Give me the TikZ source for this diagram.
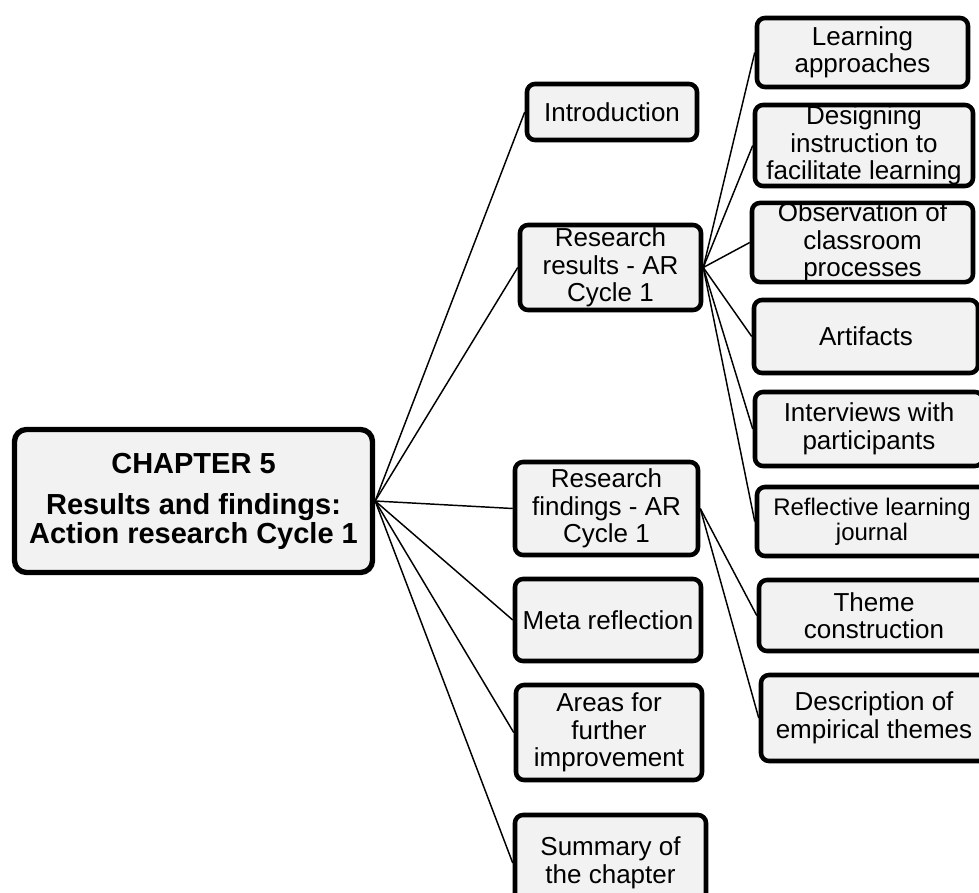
\documentclass[tikz,border=0pt]{standalone}
\usepackage{fontspec}
\setmainfont{Liberation Sans}
\usepackage{tikz}
\usetikzlibrary{positioning, calc, shapes, arrows.meta}
\definecolor{boxfill}{HTML}{F2F2F2}
\tikzstyle{Link} = [
%Plain connector between two boxes:
line width = 1.1pt,
black
]

\begin{document}
\begin{tikzpicture}[
			x = 0.75pt, y = -0.75pt,
			boxsize/.style 2 args = {minimum width = #1*0.75pt, minimum height = #2*0.75pt},
			topic/.style = {rectangle, rounded corners = 6pt, line width = 3.4pt, draw, fill = boxfill, align = center, inner sep = 0pt, font = \fontsize{19.5}{20.6}\selectfont},
			chapter/.style = {topic, rounded corners = 9pt, line width = 4pt, font = \fontsize{21.75}{21.75}\selectfont\bfseries},
		]

		\clip (0,0) rectangle (979,893);

		% main box
		\node[chapter, boxsize = {358}{143}](C5) at (193.5,501){CHAPTER 5\\[9pt]Results and findings:\\Action research Cycle 1};

		% sections of the chapter
		\node[topic, boxsize = {170}{56}](Intro) at (612,112){Introduction};
		\node[topic, boxsize = {181}{85}](Res) at (610.5,267.5){Research\\results - AR\\Cycle 1};
		\node[topic, boxsize = {183}{93}](Find) at (606.5,508.5){Research\\findings - AR\\Cycle 1};
		\node[topic, boxsize = {186}{82}](Meta) at (608,620){Meta reflection};
		\node[topic, boxsize = {186}{95}](Areas) at (609,732.5){Areas for\\further\\improvement};
		\node[topic, boxsize = {191}{96}](Sum) at (610.5,863){Summary of\\the chapter};

		% results
		\node[topic, boxsize = {211}{69}](LA) at (862.5,52.5){Learning\\approaches};
		\node[topic, boxsize = {218}{81}](DI) at (864,145.5){Designing\\instruction to\\facilitate learning};
		\node[topic, boxsize = {221}{77}](OC) at (862.5,242.5){Observation of\\classroom\\processes};
		\node[topic, boxsize = {224}{73}](Art) at (866,336.5){Artifacts};
		\node[topic, boxsize = {228}{74}](Int) at (869,429){Interviews with\\participants};
		\node[topic, boxsize = {230}{69}, font = \fontsize{18}{18.75}\selectfont](RJ) at (872,521.5){Reflective learning\\journal};

		% findings
		\node[topic, boxsize = {230}{71}](TC) at (874,615.5){Theme\\construction};
		\node[topic, boxsize = {226}{86}](DE) at (874,718){Description of\\empirical themes};

		\foreach \s in {Intro, Res, Find, Meta, Areas, Sum}
			\draw[Link](C5.east)--(\s.west);
		\foreach \s in {LA, DI, OC, Art, Int, RJ}
			\draw[Link](Res.east)--(\s.west);
		\draw[Link](Find.east)--(TC.west);
		\draw[Link](Find.east)--(DE.west);

	\end{tikzpicture}
\end{document}
